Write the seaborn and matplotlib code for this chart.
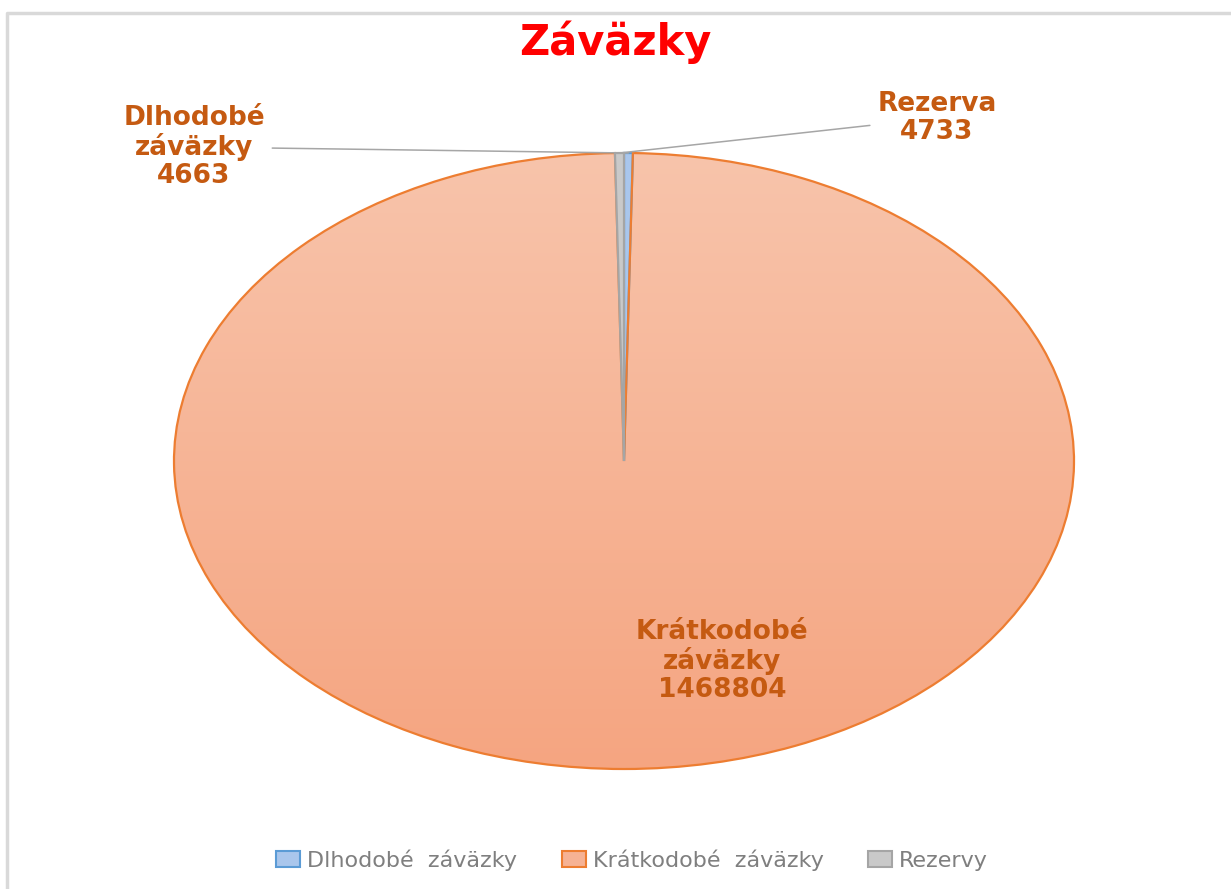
import numpy as np
import matplotlib
matplotlib.use("Agg")
import matplotlib.pyplot as plt
from matplotlib.colors import LinearSegmentedColormap
from matplotlib.lines import Line2D
from matplotlib.patches import Patch
import seaborn as sns

# data
categories = ["Dlhodobé  záväzky", "Krátkodobé  záväzky", "Rezervy"]
values = [4663, 1468804, 4733]
label_names = ["Dlhodobé\nzáväzky", "Krátkodobé\nzáväzky", "Rezerva"]

fills = ["#a9c6ec", "#f6b294", "#c9c9c9"]
edges = ["#5b9bd5", "#ed7d31", "#a5a5a5"]

sns.set_theme(style="white")
plt.rcParams["font.family"] = ["DejaVu Sans"]

W, H = 1231, 889
fig = plt.figure(figsize=(W / 100, H / 100), dpi=100)
ax = fig.add_axes([0, 0, 1, 1])

wedges, _ = ax.pie(values, startangle=90, counterclock=False, colors=fills,
                   wedgeprops=dict(linewidth=1.6))
for w, ec in zip(wedges, edges):
    w.set_edgecolor(ec)

# pie is drawn stretched, as in the original picture
cx, cy, rx, ry = 624, 461, 450, 308

# soft vertical gradient on the big slice (lighter at the top)
cmap = LinearSegmentedColormap.from_list("orange_grad", ["#f8c4ab", "#f5a581"])
grad = np.linspace(0, 1, 256).reshape(-1, 1)
im = ax.imshow(grad, extent=(-1, 1, -1, 1), cmap=cmap, aspect="auto",
               zorder=0.5, origin="upper")
im.set_clip_path(wedges[1])
wedges[1].set_facecolor("none")

ax.set_aspect("auto")
ax.set_xlim(-cx / rx, (W - cx) / rx)
ax.set_ylim(-(H - cy) / ry, cy / ry)
ax.axis("off")


def px(x, y):
    return (x - cx) / rx, (cy - y) / ry


def wedge_top(w):
    t = np.deg2rad((w.theta1 + w.theta2) / 2)
    return np.cos(t), np.sin(t)


label_col = "#c55a11"
lbl_kw = dict(color=label_col, fontsize=19, fontweight="bold", ha="center",
              va="center", linespacing=1.1)
line_kw = dict(arrowstyle="-", color="#a6a6a6", lw=1.1, shrinkA=3, shrinkB=0)

ax.annotate(f"{label_names[0]}\n{values[0]}", xy=wedge_top(wedges[0]),
            xytext=px(194, 147), arrowprops=line_kw, **lbl_kw)
ax.annotate(f"{label_names[2]}\n{values[2]}", xy=wedge_top(wedges[2]),
            xytext=px(937, 118), arrowprops=line_kw, **lbl_kw)
ax.text(*px(722, 661), f"{label_names[1]}\n{values[1]}", **lbl_kw)

fig.text(615 / W, 1 - 42 / H, "Záväzky", color="#ff0000", fontsize=30,
         fontweight="bold", ha="center", va="center")

handles = [Patch(facecolor=f, edgecolor=e, linewidth=1.5) for f, e in zip(fills, edges)]
fig.legend(handles, categories, loc="center", bbox_to_anchor=(632 / W, 1 - 860 / H),
           ncol=3, frameon=False, fontsize=16, labelcolor="#7f7f7f",
           handlelength=1.1, handleheight=0.75, handletextpad=0.3, columnspacing=2.0)

# light outer frame (top and left edges visible in the original)
fig.add_artist(Line2D([7 / W, 7 / W, 1], [0, 1 - 13 / H, 1 - 13 / H],
                      transform=fig.transFigure, color="#d9d9d9", lw=2.5))

fig.savefig("out.png", dpi=100)
